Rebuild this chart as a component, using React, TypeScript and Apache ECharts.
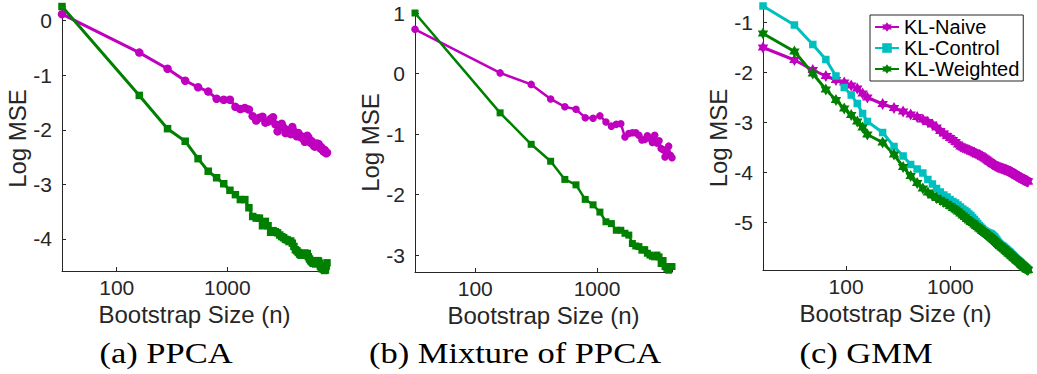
import React, { useEffect, useRef } from "react";
import * as echarts from "echarts";

// ---------- data ----------
// Panel (a) PPCA
const xA = [32,160,288,416,544,672,800,928,1056,1184,1312,1440,1568,1696,1824,1952,2080,2208,2336,2464,2592,2720,2848,2976,3104,3232,3360,3488,3616,3744,3872,4000,4128,4256,4384,4512,4640,4768,4896,5024,5152,5280,5408,5536,5664,5792,5920,6048,6176,6304,6432,6560,6688,6816,6944,7072,7200,7328,7456,7584,7712,7840,7968];
const naiveA = [0.12,-0.585,-0.88,-1.10,-1.22,-1.30,-1.43,-1.45,-1.45,-1.58,-1.62,-1.60,-1.63,-1.75,-1.83,-1.78,-1.76,-1.87,-1.85,-1.80,-1.77,-1.90,-2.03,-1.92,-1.89,-1.96,-2.06,-2.01,-2.04,-2.08,-1.95,-2.03,-2.09,-2.12,-2.06,-2.10,-2.14,-2.13,-2.17,-2.22,-2.15,-2.11,-2.14,-2.19,-2.24,-2.21,-2.26,-2.29,-2.31,-2.27,-2.25,-2.29,-2.26,-2.30,-2.34,-2.32,-2.36,-2.38,-2.40,-2.37,-2.41,-2.43,-2.42];
const weightedA = [0.26,-1.37,-1.98,-2.21,-2.53,-2.76,-2.88,-2.99,-3.11,-3.19,-3.28,-3.28,-3.43,-3.59,-3.62,-3.62,-3.76,-3.68,-3.76,-3.88,-3.85,-3.87,-3.89,-3.93,-3.96,-3.98,-4.01,-4.02,-4.05,-4.04,-4.08,-4.14,-4.20,-4.22,-4.25,-4.28,-4.30,-4.28,-4.30,-4.26,-4.28,-4.27,-4.33,-4.37,-4.40,-4.42,-4.44,-4.45,-4.43,-4.46,-4.42,-4.40,-4.41,-4.45,-4.50,-4.53,-4.55,-4.52,-4.56,-4.58,-4.57,-4.50,-4.44];

// Panel (b) Mixture of PPCA
const xB = [32,160,288,416,544,672,800,928,1056,1184,1312,1440,1568,1696,1824,1952,2080,2208,2336,2464,2592,2720,2848,2976,3104,3232,3360,3488,3616,3744,3872,4000,4128];
const naiveB = [0.73,0.01,-0.18,-0.42,-0.55,-0.59,-0.73,-0.74,-0.70,-0.80,-0.87,-0.84,-0.83,-1.05,-0.99,-0.98,-0.98,-1.02,-1.10,-1.09,-1.03,-1.07,-1.14,-1.02,-1.15,-1.11,-1.24,-1.26,-1.38,-1.32,-1.20,-1.35,-1.39];
const weightedB = [1.00,-0.65,-1.17,-1.45,-1.75,-1.84,-2.08,-2.17,-2.29,-2.45,-2.48,-2.59,-2.59,-2.64,-2.67,-2.81,-2.85,-2.86,-2.92,-2.91,-2.97,-3.00,-3.02,-3.03,-3.00,-3.03,-3.14,-3.09,-3.19,-3.22,-3.25,-3.19,-3.19];

// Panel (c) GMM
const xC = [16,32,48,64,80,96,112,128,144,160,224,288,352,416,480,544,608,672,736,800,864,928,992,1056,1120,1184,1248,1312,1376,1440,1504,1568,1632,1696,1760,1824,1888,1952,2016,2080,2144,2208,2272,2336,2400,2464,2528,2592,2656,2720,2784,2848,2912,2976,3040,3104,3168,3232,3296,3360,3424,3488,3552,3616,3680,3744,3808,3872,3936,4000,4064,4128,4192,4256,4320,4384,4448,4512,4576,4640,4704,4768,4832,4896,4960,5024,5088,5152,5216,5280,5344,5408,5472,5536];
const naiveC = [-1.51,-1.76,-1.96,-2.08,-2.16,-2.21,-2.27,-2.33,-2.43,-2.51,-2.64,-2.72,-2.79,-2.85,-2.90,-2.95,-3.00,-3.05,-3.11,-3.18,-3.23,-3.28,-3.32,-3.36,-3.40,-3.45,-3.49,-3.51,-3.53,-3.55,-3.56,-3.58,-3.60,-3.61,-3.63,-3.65,-3.66,-3.67,-3.69,-3.71,-3.73,-3.75,-3.77,-3.79,-3.80,-3.82,-3.84,-3.85,-3.86,-3.88,-3.89,-3.90,-3.91,-3.91,-3.92,-3.93,-3.93,-3.94,-3.95,-3.95,-3.96,-3.97,-3.97,-3.98,-3.99,-3.99,-4.00,-4.01,-4.02,-4.03,-4.04,-4.05,-4.06,-4.07,-4.08,-4.08,-4.09,-4.10,-4.10,-4.11,-4.12,-4.12,-4.13,-4.14,-4.15,-4.15,-4.16,-4.16,-4.17,-4.17,-4.18,-4.18,-4.19,-4.19];
const controlC = [-0.68,-1.06,-1.45,-1.75,-2.08,-2.31,-2.46,-2.63,-2.83,-2.99,-3.21,-3.49,-3.68,-3.85,-3.94,-4.02,-4.15,-4.24,-4.33,-4.40,-4.46,-4.50,-4.55,-4.59,-4.62,-4.66,-4.70,-4.74,-4.77,-4.80,-4.84,-4.87,-4.91,-4.95,-4.99,-5.03,-5.07,-5.10,-5.13,-5.16,-5.18,-5.20,-5.21,-5.22,-5.23,-5.24,-5.26,-5.28,-5.30,-5.33,-5.36,-5.39,-5.42,-5.44,-5.46,-5.47,-5.48,-5.50,-5.51,-5.53,-5.54,-5.56,-5.57,-5.59,-5.60,-5.61,-5.63,-5.65,-5.66,-5.68,-5.69,-5.71,-5.72,-5.74,-5.75,-5.76,-5.77,-5.78,-5.79,-5.80,-5.82,-5.83,-5.84,-5.85,-5.86,-5.87,-5.88,-5.89,-5.90,-5.91,-5.92,-5.93,-5.94,-5.96];
const weightedC = [-1.23,-1.59,-2.03,-2.35,-2.56,-2.73,-2.86,-2.99,-3.11,-3.25,-3.41,-3.65,-3.90,-4.08,-4.22,-4.33,-4.41,-4.47,-4.52,-4.56,-4.60,-4.64,-4.68,-4.72,-4.75,-4.79,-4.83,-4.87,-4.90,-4.94,-4.97,-5.00,-5.02,-5.05,-5.08,-5.10,-5.13,-5.15,-5.18,-5.20,-5.22,-5.24,-5.26,-5.28,-5.30,-5.32,-5.34,-5.36,-5.38,-5.40,-5.42,-5.44,-5.46,-5.48,-5.49,-5.51,-5.52,-5.54,-5.55,-5.57,-5.58,-5.60,-5.61,-5.63,-5.64,-5.65,-5.67,-5.68,-5.69,-5.71,-5.72,-5.73,-5.74,-5.76,-5.77,-5.78,-5.79,-5.80,-5.81,-5.82,-5.84,-5.85,-5.86,-5.87,-5.88,-5.89,-5.90,-5.91,-5.92,-5.93,-5.94,-5.95,-5.95,-5.96];

const legendNames = ["KL-Naive", "KL-Control", "KL-Weighted"];
const captions = ["(a) PPCA", "(b) Mixture of PPCA", "(c) GMM"];
const xAxisTitle = "Bootstrap Size (n)";
const yAxisTitle = "Log MSE";

// ---------- styles ----------
const MAGENTA = "#BF00BF";
const CYAN = "#00BFBF";
const GREEN = "#008000";
const AXIS = "#262626";
const SANS = "Liberation Sans, Arial, Helvetica, sans-serif";
const SERIF = "Liberation Serif, Times New Roman, serif";
const HEX = "path://M50 0L64.43 25L93.3 25L78.87 50L93.3 75L64.43 75L50 100L35.57 75L6.7 75L21.13 50L6.7 25L35.57 25Z";

const zip = (xs: number[], ys: number[]) => xs.map((x, i) => [x, ys[i]]);

const xLabelFmt = (v: number) => {
  const l = Math.log10(v);
  return Math.abs(l - Math.round(l)) < 1e-6 ? String(Math.round(v)) : "";
};
const yLabelFmt = (v: number) => {
  const r = Math.round(v);
  return Math.abs(v - r) < 1e-6 ? String(r === 0 ? 0 : r) : "";
};

function xAxisCfg(gridIndex: number, min: number, max: number) {
  return {
    type: "log",
    logBase: 10,
    gridIndex,
    min,
    max,
    name: xAxisTitle,
    nameLocation: "middle",
    nameGap: 24,
    nameTextStyle: { fontFamily: SANS, fontSize: 24, color: AXIS },
    axisLine: { show: true, onZero: false, lineStyle: { color: AXIS, width: 1 } },
    axisTick: { show: true, inside: true, length: 4, lineStyle: { color: AXIS } },
    axisLabel: { formatter: xLabelFmt, fontFamily: SANS, fontSize: 21, color: AXIS, margin: 6, showMinLabel: true, showMaxLabel: true },
    splitLine: { show: false },
    minorTick: { show: false },
  };
}

function yAxisCfg(gridIndex: number, min: number, max: number) {
  return {
    type: "value",
    gridIndex,
    min,
    max,
    name: yAxisTitle,
    nameLocation: "middle",
    nameRotate: 90,
    nameGap: 29,
    nameTextStyle: { fontFamily: SANS, fontSize: 24, color: AXIS },
    axisLine: { show: true, onZero: false, lineStyle: { color: AXIS, width: 1 } },
    axisTick: { show: true, inside: true, length: 4, lineStyle: { color: AXIS } },
    axisLabel: { formatter: yLabelFmt, fontFamily: SANS, fontSize: 21, color: AXIS, margin: 10, showMinLabel: true, showMaxLabel: true },
    splitLine: { show: false },
  };
}

function lineSeries(name: string, idx: number, xs: number[], ys: number[], color: string, symbol: string, size: number | number[], width: number) {
  return {
    type: "line",
    name,
    xAxisIndex: idx,
    yAxisIndex: idx,
    data: zip(xs, ys),
    symbol,
    symbolSize: size,
    showAllSymbol: true,
    lineStyle: { color, width },
    itemStyle: { color, borderWidth: 0 },
    emphasis: { disabled: true },
    clip: false,
  };
}

export default function App() {
  const ref = useRef<HTMLDivElement>(null);
  useEffect(() => {
    if (!ref.current) return;
    const chart = echarts.init(ref.current, null, { renderer: "svg" });
    chart.setOption({
      animation: false,
      backgroundColor: "#ffffff",
      grid: [
        { left: 62, top: 6, width: 265, height: 265 },
        { left: 415, top: 13, width: 257, height: 259 },
        { left: 763, top: 6, width: 265, height: 264 },
      ],
      xAxis: [xAxisCfg(0, 32, 7968), xAxisCfg(1, 32, 4128), xAxisCfg(2, 16, 5536)],
      yAxis: [yAxisCfg(0, -4.59, 0.27), yAxisCfg(1, -3.28, 1.0), yAxisCfg(2, -5.96, -0.68)],
      legend: {
        data: legendNames,
        orient: "vertical",
        left: 870,
        top: 15,
        padding: [2, 4, 2, 4],
        itemWidth: 24,
        itemHeight: 12,
        itemGap: 1,
        backgroundColor: "#ffffff",
        borderColor: AXIS,
        borderWidth: 1,
        borderRadius: 0,
        selectedMode: false,
        textStyle: { fontFamily: SANS, fontSize: 20, color: "#000", lineHeight: 20 },
      },
      series: [
        lineSeries("a-naive", 0, xA, naiveA, MAGENTA, "circle", 8.5, 3),
        lineSeries("a-weighted", 0, xA, weightedA, GREEN, "rect", 7.5, 3),
        lineSeries("b-naive", 1, xB, naiveB, MAGENTA, "circle", 7.5, 2.5),
        lineSeries("b-weighted", 1, xB, weightedB, GREEN, "rect", 7, 2.5),
        lineSeries(legendNames[0], 2, xC, naiveC, MAGENTA, HEX, [10.5, 12], 3),
        lineSeries(legendNames[1], 2, xC, controlC, CYAN, "rect", 7.5, 3),
        lineSeries(legendNames[2], 2, xC, weightedC, GREEN, HEX, [10.5, 12], 3),
      ],
      graphic: [
        { type: "text", x: 166, y: 353, scaleX: 1.15, style: { text: captions[0], fontFamily: SERIF, fontSize: 30, fill: "#000", align: "center", verticalAlign: "middle" } },
        { type: "text", x: 515, y: 353, scaleX: 1.15, style: { text: captions[1], fontFamily: SERIF, fontSize: 30, fill: "#000", align: "center", verticalAlign: "middle" } },
        { type: "text", x: 866, y: 353, scaleX: 1.15, style: { text: captions[2], fontFamily: SERIF, fontSize: 30, fill: "#000", align: "center", verticalAlign: "middle" } },
      ],
    });
    return () => chart.dispose();
  }, []);
  return <div ref={ref} style={{ position: "absolute", left: 0, top: 0, width: 1037, height: 374 }} />;
}
